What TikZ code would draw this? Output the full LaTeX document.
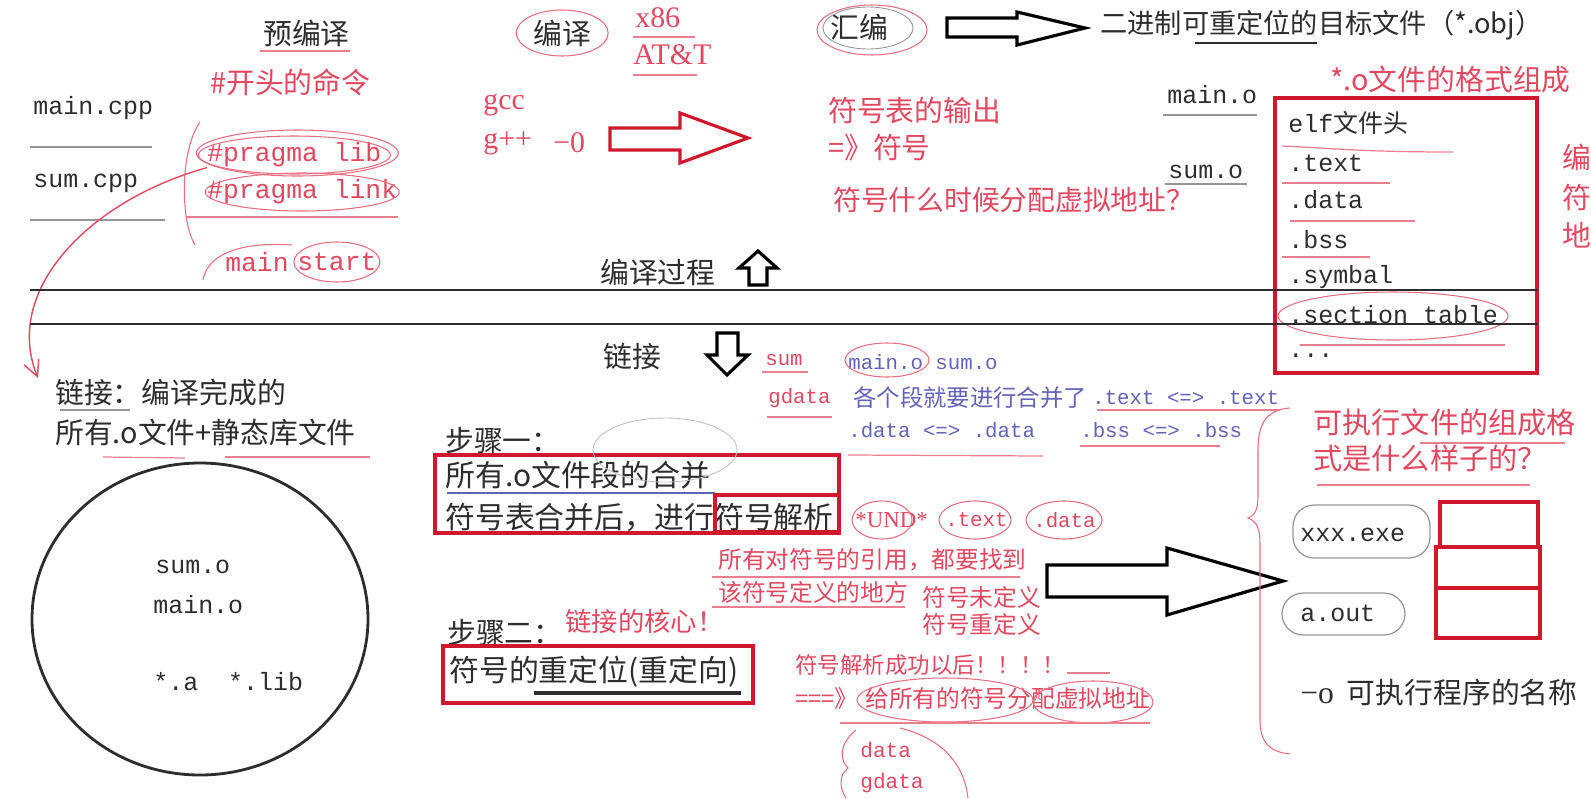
\documentclass[tikz,border=0pt]{standalone}
\usepackage{fontspec}
\usepackage{tikz}
\usetikzlibrary{arrows.meta, calc}
\setmainfont{Noto Sans CJK SC}
\setmonofont{Liberation Mono}
\newfontfamily\latser{Liberation Serif}
\definecolor{ink}{RGB}{45,45,45}
\definecolor{pen}{RGB}{226,72,96}
\definecolor{boxRed}{RGB}{208,24,44}
\definecolor{bluePen}{RGB}{98,98,184}
\definecolor{greyLine}{RGB}{150,150,150}

\begin{document}
\begin{tikzpicture}[x=0.02cm, y=-0.02cm,
  txt/.style={anchor=west, inner sep=0pt, text=ink, font=\fontsize{16.4}{19}\selectfont},
  big/.style={txt, font=\fontsize{17}{20}\selectfont},
  code/.style={anchor=west, inner sep=0pt, text=ink, font=\ttfamily\fontsize{14.2}{17}\selectfont},
  note/.style={anchor=west, inner sep=0pt, text=pen, font=\fontsize{16.4}{19}\selectfont},
  small/.style={note, font=\fontsize{13.5}{16}\selectfont},
  bnote/.style={note, text=bluePen, font=\fontsize{13.3}{16}\selectfont},
  rcode/.style={code, text=pen, font=\ttfamily\fontsize{15}{18}\selectfont},
  tiny/.style={code, text=pen, font=\ttfamily\fontsize{11.8}{14}\selectfont},
  bcode/.style={code, text=bluePen, font=\ttfamily\fontsize{11.8}{14}\selectfont},
  ser/.style={anchor=west, inner sep=0pt, text=pen, font=\latser\fontsize{17}{20}\selectfont},
  redbox/.style={draw=boxRed, line width=1.8pt},
  blockarrow/.style={draw, line width=1.8pt, line join=miter},
  scrib/.style={draw=pen!80, line width=0.6pt},
  uline/.style={draw=pen!70, line width=0.7pt},
  gline/.style={draw=greyLine, line width=0.7pt},
]
\useasboundingbox (0,0) rectangle (1591,798);

% preprocessing column
\node[txt] (pre) at (263,33) {预编译};
\draw[uline] (260,51) -- (350,51);
\node[note] (hashcmd) at (210,82) {\#开头的命令};
\node[code] (maincpp) at (33,108) {main.cpp};
\draw[gline] (30,147) -- (152,147);
\node[code] (sumcpp) at (33,183) {sum.cpp};
\draw[gline] (30,220) -- (165,220);
\node[rcode] (lib) at (207,155) {\#pragma lib};
\node[rcode] (link) at (207,192) {\#pragma link};
\draw[scrib] (lib) ellipse [x radius=96, y radius=19];
\draw[scrib] ($(lib)+(3,-2)$) ellipse [x radius=101, y radius=23];
\draw[scrib] (link) ellipse [x radius=97, y radius=19];
\draw[scrib] (200,122) .. controls (180,150) and (180,220) .. (195,245);
\draw[uline] (187,217) -- (398,217);
\node[rcode] (mainfn) at (225,262) {main};
\node[rcode] (start) at (297,262) {start};
\draw[scrib] (start) ellipse [x radius=43, y radius=20];
\draw[scrib] (203,280) .. controls (208,250) and (250,242) .. (292,245);

% pragma -> linking
\coordinate (linkin) at (38,378);
\draw[pen, line width=0.8pt, -{Straight Barb[length=9pt, width=9pt]}]
  (lib.south west) .. controls (90,200) and (2,290) .. (linkin);

% compile
\node[txt] (comp) at (533,33) {编译};
\draw[scrib] (comp) ellipse [x radius=46, y radius=23];
\node[ser] (x86) at (635,18) {x86};
\draw[uline] (633,37) -- (695,37);
\node[ser] (att) at (633,55) {AT\&T};
\draw[uline] (633,75) -- (697,75);
\node[ser] (gcc) at (483,105) {gcc};
\node[ser] (gpp) at (483,143) {g++};
\node[ser] (oflag) at (553,143) {−0};
\draw[blockarrow, boxRed] (610,128) -- (680,128) -- (680,113) -- (748,138)
  -- (680,163) -- (680,150) -- (610,150) -- cycle;

% assemble
\node[txt] (asm) at (830,27) {汇编};
\draw[scrib] (872,30) ellipse [x radius=55, y radius=25];
\draw[gline, line width=0.5pt] (868,28) ellipse [x radius=45, y radius=21];
\draw[blockarrow] (947,18) -- (1017,18) -- (1017,12) -- (1085,28)
  -- (1017,45) -- (1017,37) -- (947,37) -- cycle;
\node[txt, font=\fontsize{15.5}{18}\selectfont] (obj) at (1100,25) {二进制可重定位的目标文件（*.obj）};
\draw[ink, line width=1.6pt] (1195,43) -- (1317,43);

\node[note] (symout) at (828,110) {符号表的输出};
\node[note] (symto) at (828,148) {=》符号};
\node[note, font=\fontsize{15.8}{18}\selectfont] (symwhen) at (833,200) {符号什么时候分配虚拟地址？};

% object file layout
\node[code] (mo) at (1167,95) {main.o};
\draw[gline] (1163,115) -- (1257,115);
\node[code] (so) at (1168,172) {sum.o};
\draw[gline] (1165,184) -- (1247,184);
\node[note] (ofmt) at (1330,80) {*.o文件的格式组成};
\draw[redbox] (1275,98) rectangle (1537,373);
\node[code] (elf) at (1288,123) {elf{\rmfamily 文件头}};
\foreach \y/\t/\n in {163/.text/sec1, 200/.data/sec2, 240/.bss/sec3,
                      277/.symbal/sec4, 315/.section table/sec5}
  \node[code] (\n) at (1288,\y) {\t};
\node[code] (sec6) at (1288,356) {...};
\draw[uline] (1282,146) .. controls (1330,148) and (1360,152) .. (1453,152);
\draw[uline] (1282,183) -- (1390,183);
\draw[uline] (1290,221) -- (1415,221);
\draw[uline] (1282,257) -- (1370,257);
\draw[uline] (1300,345) -- (1505,345);
\draw[scrib] (1393,316) ellipse [x radius=115, y radius=24];
\node[note] (m1) at (1562,157) {编};
\node[note] (m2) at (1562,198) {符};
\node[note] (m3) at (1562,235) {地};

% dividing lines
\draw[ink, line width=1.6pt] (30,290) -- (1538,290);
\draw[ink, line width=1.6pt] (30,324) -- (1538,324);
\node[txt] (proc) at (600,272) {编译过程};
\draw[blockarrow] (758,251) -- (777,268) -- (767,268) -- (767,285)
  -- (749,285) -- (749,268) -- (739,268) -- cycle;
\node[txt] (lnk) at (603,357) {链接};
\draw[blockarrow] (717,333) -- (738,333) -- (738,355) -- (748,355)
  -- (727,375) -- (707,355) -- (717,355) -- cycle;

% linking inputs
\node[txt] (link1) at (55,393) {链接：编译完成的};
\node[txt] (link2) at (55,433) {所有.o文件+静态库文件};
\draw[gline] (60,410) -- (130,410);
\draw[uline] (103,457) -- (185,458);
\draw[uline] (225,457) -- (370,457);
\draw[ink, line width=1.6pt] (200,619) ellipse [x radius=168, y radius=156];
\node[code] (cs) at (155,567) {sum.o};
\node[code] (cm) at (153,605) {main.o};
\node[code] (clib) at (153,682) {*.a\ \ *.lib};

% step one
\node[txt] (step1) at (445,440) {步骤一：};
\draw[redbox] (435,455) rectangle (839,533);
\node[big] (s1a) at (445,475) {所有.o文件段的合并};
\draw[bluePen, line width=1pt] (447,493) -- (715,493);
\node[big] (s1b) at (445,517) {符号表合并后，进行符号解析};
\draw[redbox] (715,495) rectangle (839,532);
\draw[greyLine!60, line width=0.5pt] (665,450) ellipse [x radius=72, y radius=32];

\node[tiny] (sumx) at (765,360) {sum};
\draw[uline] (762,372) -- (808,372);
\node[bcode] (objs) at (848,362) {main.o sum.o};
\draw[scrib] (887,360) ellipse [x radius=42, y radius=17];
\node[tiny] (gdata) at (768,398) {gdata};
\draw[uline] (767,417) -- (832,417);
\node[bnote] (merge) at (853,398) {各个段就要进行合并了};
\node[bcode] (tt) at (1092,398) {.text <=> .text};
\draw[uline] (1097,410) -- (1280,410);
\node[bcode] (dd) at (848,430) {.data <=> .data};
\draw[uline] (848,455) -- (1043,456);
\node[bcode] (bb) at (1080,430) {.bss <=> .bss};
\draw[uline] (1080,446) -- (1220,446);

\node[anchor=west, inner sep=0pt, text=pen, font=\latser\fontsize{13}{15}\selectfont] (und) at (855,520) {*UND*};
\draw[scrib] (882,520) ellipse [x radius=30, y radius=19];
\node[tiny] (ut) at (945,520) {.text};
\draw[scrib] (975,520) ellipse [x radius=36, y radius=19];
\node[tiny] (ud) at (1033,520) {.data};
\draw[scrib] (1064,520) ellipse [x radius=38, y radius=19];
\node[small] (ref1) at (718,560) {所有对符号的引用，都要找到};
\node[small] (ref2) at (718,592) {该符号定义的地方};
\draw[uline] (712,577) -- (1020,577);
\draw[uline] (712,607) -- (905,607);
\node[small] (undef) at (922,597) {符号未定义};
\node[small] (redef) at (922,624) {符号重定义};
\draw[blockarrow] (1047,565) -- (1167,565) -- (1167,548) -- (1283,581)
  -- (1167,615) -- (1167,597) -- (1047,597) -- cycle;

% step two
\node[txt] (step2) at (447,632) {步骤二：};
\node[note, font=\fontsize{15}{18}\selectfont] (core) at (565,621) {链接的核心！};
\draw[redbox] (443,646) rectangle (753,703);
\node[big] (s2) at (449,672) {符号的重定位(重定向)};
\draw[ink, line width=1.8pt] (534,693) -- (741,693);

\node[note, font=\fontsize{12.8}{15}\selectfont] (okres) at (795,665) {符号解析成功以后！！！！};
\draw[uline] (1067,673) -- (1110,673);
\node[small] (arr3) at (795,698) {===》};
\node[small] (assign) at (865,698) {给所有的符号分配虚拟地址};
\draw[scrib] (945,700) ellipse [x radius=88, y radius=22];
\draw[scrib] (1093,702) ellipse [x radius=60, y radius=21];
\draw[uline] (840,723) -- (1150,723);
\node[tiny, font=\ttfamily\fontsize{12}{14}\selectfont] (d1) at (860,750) {data};
\node[tiny, font=\ttfamily\fontsize{12}{14}\selectfont] (d2) at (860,783) {gdata};
\draw[scrib] (856,730) .. controls (838,745) and (840,760) .. (848,768)
  .. controls (838,775) and (840,790) .. (846,798);
\draw[scrib] (900,728) .. controls (948,740) and (965,770) .. (968,798);

% executable
\node[note, font=\fontsize{16.6}{19}\selectfont] (exeq1) at (1313,422) {可执行文件的组成格};
\node[note, font=\fontsize{16.6}{19}\selectfont] (exeq2) at (1313,458) {式是什么样子的？};
\draw[uline] (1420,443) -- (1565,443);
\draw[uline] (1317,485) -- (1530,485);
\draw[scrib] (1290,408) .. controls (1265,410) and (1258,425) .. (1258,450) -- (1258,495)
  .. controls (1258,510) and (1255,515) .. (1248,518)
  .. controls (1258,522) and (1260,530) .. (1260,545) -- (1260,720)
  .. controls (1260,745) and (1272,752) .. (1290,754);
\node[code] (exe) at (1300,535) {xxx.exe};
\draw[gline, rounded corners=12pt] (1293,505) rectangle (1430,558);
\node[code] (aout) at (1300,613) {a.out};
\draw[gline, rounded corners=12pt] (1282,593) rectangle (1405,635);
\draw[redbox] (1440,502) rectangle (1538,547);
\draw[redbox] (1436,547) rectangle (1540,588);
\draw[redbox] (1436,588) rectangle (1540,638);
\node[txt] (oname) at (1300,693) {{\latser\fontsize{18}{20}\selectfont −o}\ \ 可执行程序的名称};
\end{tikzpicture}
\end{document}
